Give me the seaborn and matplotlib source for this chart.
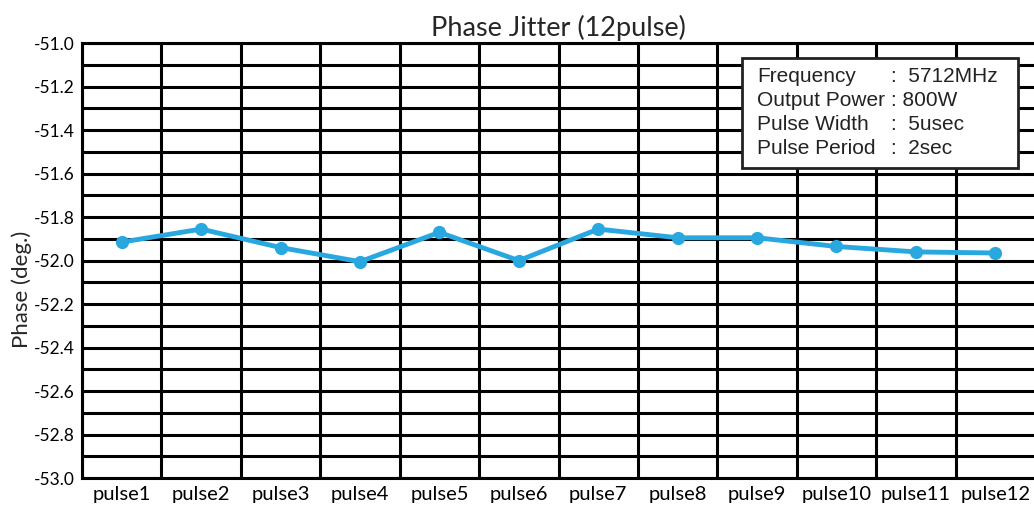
import matplotlib
matplotlib.use("Agg")
import matplotlib.pyplot as plt
import matplotlib.patches as mpatches
from matplotlib.ticker import MultipleLocator
import seaborn as sns
import pandas as pd

pulses = ['pulse1', 'pulse2', 'pulse3', 'pulse4', 'pulse5', 'pulse6',
          'pulse7', 'pulse8', 'pulse9', 'pulse10', 'pulse11', 'pulse12']
phase = [-51.915, -51.855, -51.94, -52.005, -51.87, -52.0,
         -51.855, -51.895, -51.895, -51.935, -51.96, -51.965]
info_keys = ['Frequency', 'Output Power', 'Pulse Width', 'Pulse Period']
info_vals = [':  5712MHz', ': 800W', ':  5usec', ':  2sec']

df = pd.DataFrame({'pulse': pulses, 'phase': phase})

sns.set_style('white')
plt.rcParams['font.family'] = ['Lato', 'DejaVu Sans']

fig = plt.figure(figsize=(10.34, 5.08), dpi=100)
ax = fig.add_axes([0.0793, 0.059, 0.9217, 0.856])

sns.lineplot(data=df, x='pulse', y='phase', sort=False, color='#29a8e0',
             linewidth=3.5, marker='o', markersize=9.5, markeredgewidth=0,
             ax=ax, zorder=5)

ax.set_xlim(-0.5, 11.5)
ax.set_ylim(-53.0, -51.0)
ax.yaxis.set_major_locator(MultipleLocator(0.2))
ax.yaxis.set_minor_locator(MultipleLocator(0.1))
ax.set_yticklabels(['%.1f' % v for v in ax.get_yticks()])
ax.set_xticks(range(len(pulses)), minor=False)
ax.set_xticks([i + 0.5 for i in range(-1, len(pulses))], minor=True)
ax.set_xticklabels(pulses)

ax.grid(which='both', color='black', linewidth=2.2)
ax.grid(which='major', axis='x', visible=False)
ax.tick_params(axis='both', which='both', length=0, colors='black')
ax.tick_params(axis='y', pad=5, labelsize=12.5)
ax.tick_params(axis='x', pad=6, labelsize=14.5)
for s in ['left', 'bottom', 'top']:
    ax.spines[s].set_color('black')
    ax.spines[s].set_linewidth(2.2)
ax.spines['right'].set_visible(False)

ax.set_xlabel('')
ax.set_ylabel('Phase (deg.)', fontsize=16)
ax.yaxis.set_label_coords(-0.052, 0.434)
ax.set_title('Phase Jitter (12pulse)', fontsize=19.5, pad=5)

# info box
box = mpatches.Rectangle((742, 340), 276, 110, transform=None, facecolor='white',
                         edgecolor='#222222', linewidth=2, zorder=10)
fig.patches.append(box)
for i in range(len(info_keys)):
    yy = 508 - 77 - i * 23.8
    fig.text(757 / 1034, yy / 508, info_keys[i], fontsize=15, family='Liberation Sans',
             color='#222222', va='center', ha='left', zorder=11)
    fig.text(891 / 1034, yy / 508, info_vals[i], fontsize=15, family='Liberation Sans',
             color='#222222', va='center', ha='left', zorder=11)

fig.savefig('out.png', dpi=100)
